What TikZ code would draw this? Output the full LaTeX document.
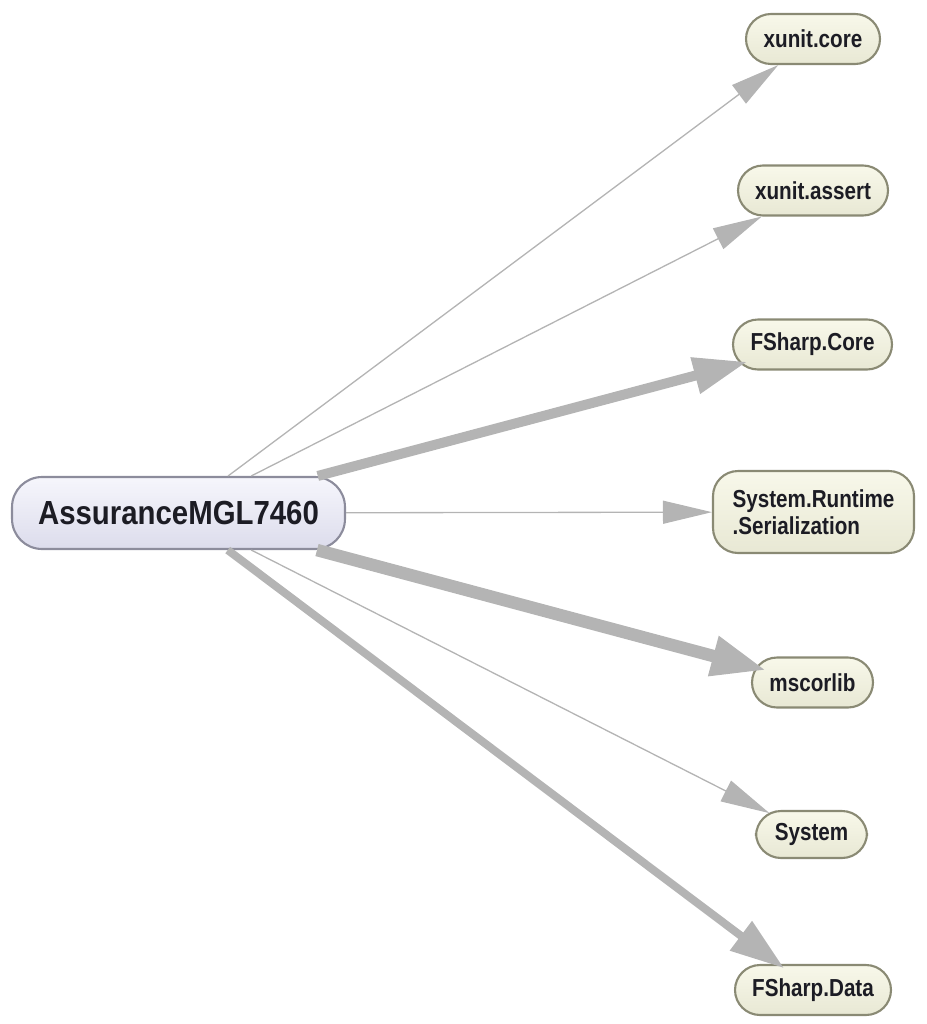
\documentclass[tikz,border=0pt]{standalone}
\usepackage{fontspec}
\setmainfont{Liberation Sans}
\newfontfamily\asmfont[FakeStretch=0.84]{Liberation Sans}
\newfontfamily\rootfont[FakeStretch=0.88]{Liberation Sans}
\usepackage{tikz}
\usetikzlibrary{arrows.meta,shapes,shadows}
\usepackage{xcolor}
\definecolor{asmlilac}{RGB}{246,246,252}
\definecolor{asmlilac2}{RGB}{220,220,236}
\definecolor{asmrim}{RGB}{140,140,156}
\definecolor{refcream}{RGB}{248,248,234}
\definecolor{refcream2}{RGB}{232,232,212}
\definecolor{refrim}{RGB}{138,138,116}
\definecolor{refgray}{RGB}{180,180,180}
\definecolor{asmtext}{RGB}{28,28,36}
\tikzstyle{asmroot} = [rectangle, rounded corners=0.6cm, minimum width=6.66cm, minimum height=1.44cm, text centered, draw=asmrim, top color=asmlilac, bottom color=asmlilac2, line width=1.2pt, font=\rootfont\bfseries\fontsize{19}{22}\selectfont, text=asmtext]
\tikzstyle{asmref} = [rectangle, rounded corners=0.5cm, minimum height=1cm, inner sep=2pt, align=left, draw=refrim, top color=refcream, bottom color=refcream2, line width=1.2pt, font=\asmfont\bfseries\fontsize{14}{15.7}\selectfont, text=asmtext]
\tikzstyle{thinref} = [draw=refgray, line width=0.75pt, -{Triangle[length=0.98cm,width=0.46cm]}]
\tikzstyle{heavyref} = [draw=refgray, -{Triangle[length=1.08cm,width=0.7cm]}]

\begin{document}
\begin{tikzpicture}[x=0.02cm, y=-0.02cm]
\useasboundingbox (0,0) rectangle (926,1024);
% Assembly and its references
\node (assurance) [asmroot] at (178.5,513) {AssuranceMGL7460};
\node (xunitcore) [asmref, minimum width=2.68cm] at (813,39) {xunit.core};
\node (xunitassert) [asmref, minimum width=3.0cm] at (813,190.5) {xunit.assert};
\node (fscore) [asmref, minimum width=3.18cm] at (812.5,344.5) {FSharp.Core};
\node (serialization) [asmref, minimum width=4.02cm, minimum height=1.64cm] at (813.5,512) {System.Runtime\\.Serialization};
\node (mscorlib) [asmref, minimum width=2.42cm] at (812.5,682.5) {mscorlib};
\node (system) [asmref, minimum width=2.22cm, minimum height=0.94cm] at (811.5,834.5) {System};
\node (fsdata) [asmref, minimum width=3.12cm] at (813,990) {FSharp.Data};

% Dependencies
\draw[thinref] (assurance) -- (xunitcore);
\draw[thinref] (assurance) -- (xunitassert);
\draw[heavyref, line width=0.2cm, shorten >=-0.32cm] (assurance) -- (fscore);
\draw[thinref] (assurance) -- (serialization);
\draw[heavyref, line width=0.25cm, shorten >=-0.32cm, -{Triangle[length=1.1cm,width=0.76cm]}] (assurance) -- (mscorlib);
\draw[thinref, shorten >=-0.14cm] (assurance) -- (system);
\draw[heavyref, line width=0.16cm, shorten >=-0.14cm] (assurance) -- (fsdata);
\end{tikzpicture}
\end{document}
